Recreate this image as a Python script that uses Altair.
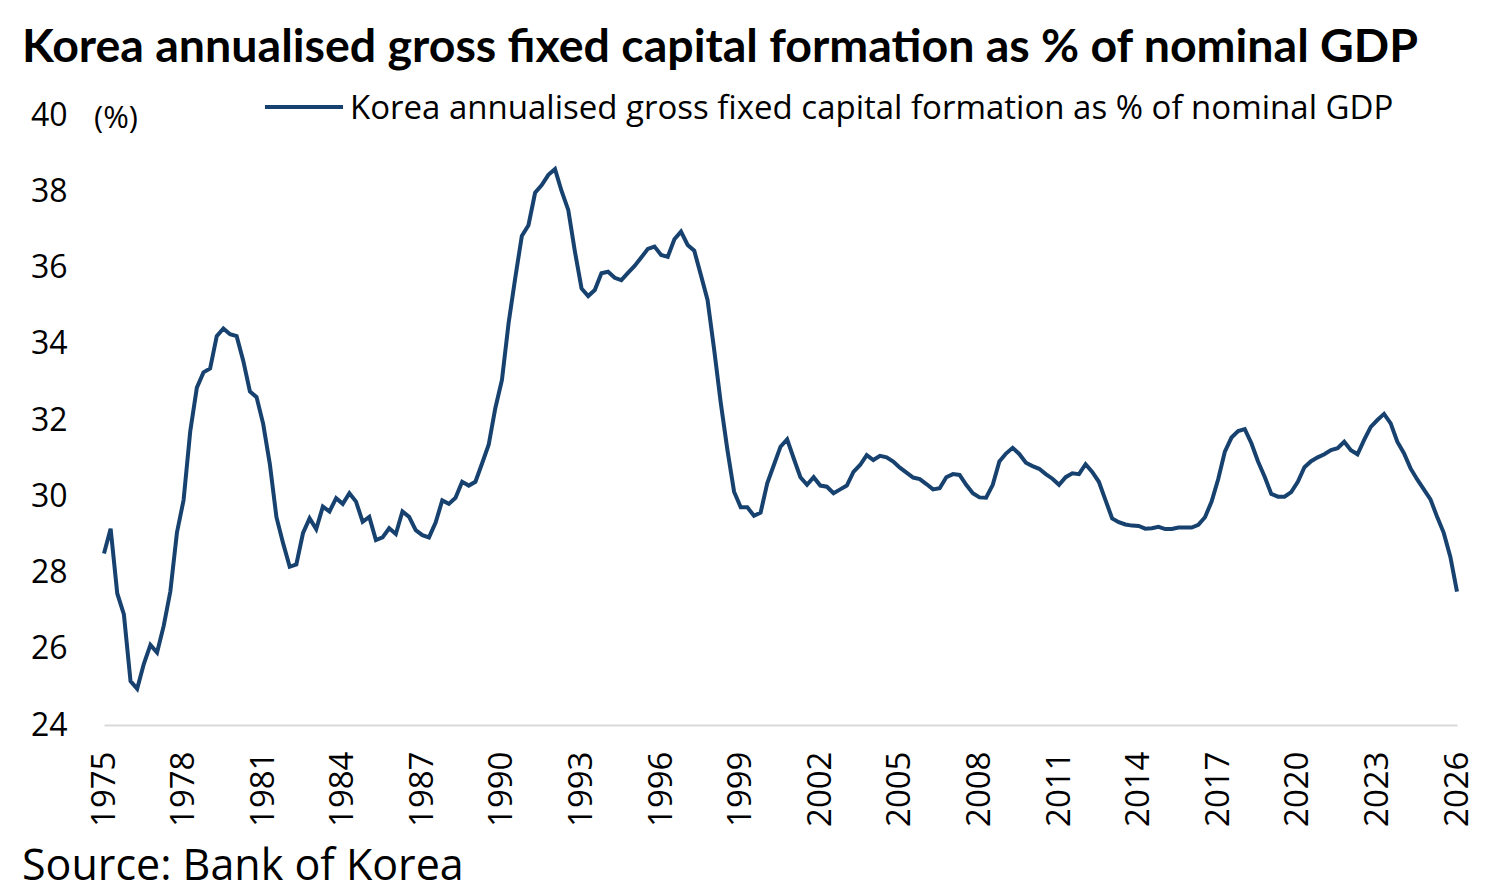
import altair as alt
import pandas as pd

# Quarterly values, 1975Q1 onward
vals_1975_1980 = [28.5, 29.15, 27.45, 26.9, 25.15, 24.95, 25.6, 26.1, 25.9, 26.6, 27.5, 29.05,
                  29.9, 31.7, 32.85, 33.25, 33.35, 34.2, 34.4, 34.25, 34.2, 33.55, 32.75, 32.6]
vals_1981_1987 = [31.9, 30.85, 29.45, 28.77, 28.15, 28.21, 29.03, 29.42, 29.14, 29.73, 29.6, 29.95,
                  29.8, 30.08, 29.86, 29.33, 29.46, 28.85, 28.92, 29.16, 29.01, 29.6, 29.46, 29.11,
                  28.98, 28.92]
vals_1987_1992 = [29.31, 29.89, 29.8, 29.96, 30.38, 30.28, 30.38, 30.86, 31.35, 32.31, 33.05, 34.54,
                  35.72, 36.83, 37.11, 37.96, 38.16, 38.43, 38.58, 38.0]
vals_1992_2000 = [37.51, 36.42, 35.45, 35.25, 35.41, 35.85, 35.89, 35.73, 35.67, 35.86, 36.04, 36.26,
                  36.49, 36.55, 36.33, 36.28, 36.74, 36.94, 36.59, 36.44, 35.8, 35.15, 33.84, 32.44,
                  31.21, 30.12, 29.71, 29.71, 29.49, 29.57, 30.34, 30.82, 31.3]
vals_2000_2008 = [31.49, 30.99, 30.5, 30.3, 30.5, 30.28, 30.25, 30.08, 30.18, 30.28, 30.64, 30.82,
                  31.08, 30.95, 31.06, 31.02, 30.91, 30.75, 30.62, 30.49, 30.45, 30.32, 30.18, 30.21,
                  30.5, 30.58, 30.56, 30.3, 30.08, 29.97, 29.96, 30.3, 30.91]
vals_2009_2017 = [31.12, 31.27, 31.11, 30.88, 30.79, 30.72, 30.58, 30.46, 30.3, 30.5, 30.6, 30.58,
                  30.84, 30.64, 30.38, 29.9, 29.42, 29.32, 29.26, 29.23, 29.22, 29.15, 29.16, 29.2,
                  29.14, 29.14, 29.18, 29.18, 29.18, 29.25, 29.45, 29.86, 30.45]
vals_2017_2026 = [31.17, 31.54, 31.71, 31.76, 31.39, 30.91, 30.51, 30.06, 29.99, 29.99, 30.11, 30.38,
                  30.76, 30.92, 31.02, 31.1, 31.21, 31.26, 31.43, 31.21, 31.1, 31.48, 31.82, 32.0,
                  32.16, 31.91, 31.43, 31.13, 30.73, 30.44, 30.18, 29.92, 29.46, 29.04, 28.41, 27.5]

values = (vals_1975_1980 + vals_1981_1987 + vals_1987_1992 + vals_1992_2000 +
          vals_2000_2008 + vals_2009_2017 + vals_2017_2026)
start_year = 1975
years = [start_year + i / 4 for i in range(len(values))]

x_tick_labels = list(range(1975, 2027, 3))
y_tick_labels = list(range(24, 41, 2))

series_name = "Korea annualised gross fixed capital formation as % of nominal GDP"
title_text = "Korea annualised gross fixed capital formation as % of nominal GDP"
source_text = "Source: Bank of Korea"
unit_text = "(%)"

LINE_COLOR = "#17426f"
FONT = "Open Sans"

df = pd.DataFrame({"year": years, "value": values})

line = alt.Chart(df).mark_line(color=LINE_COLOR, strokeWidth=4).encode(
    x=alt.X("year:Q", scale=alt.Scale(domain=[1975, 2026], nice=False, zero=False),
            axis=alt.Axis(values=x_tick_labels, format="d", labelAngle=270, ticks=False,
                          grid=False, domainColor="#d9d9d9", domainWidth=2,
                          labelPadding=26, labelFontSize=33, labelFont=FONT,
                          labelColor="#000000", title=None)),
    y=alt.Y("value:Q", scale=alt.Scale(domain=[24, 40], nice=False, zero=False),
            axis=alt.Axis(values=y_tick_labels, domain=False, ticks=False, grid=False,
                          labelPadding=37, labelFontSize=32, labelFont=FONT,
                          labelColor="#000000", title=None)),
)

one = pd.DataFrame({"k": [0]})

title = alt.Chart(one).mark_text(text=title_text, font="Lato", fontWeight="bold", fontSize=46.5,
                                 align="left", baseline="alphabetic", color="#000000").encode(
    x=alt.value(-82), y=alt.value(-53))

source = alt.Chart(one).mark_text(text=source_text, font=FONT, fontSize=43,
                                  align="left", baseline="alphabetic", color="#000000").encode(
    x=alt.value(-82), y=alt.value(765))

unit = alt.Chart(one).mark_text(text=unit_text, font=FONT, fontSize=31,
                                align="left", baseline="alphabetic", color="#000000").encode(
    x=alt.value(-10), y=alt.value(13))

legend_line = alt.Chart(one).mark_rule(color=LINE_COLOR, strokeWidth=4).encode(
    x=alt.value(161), x2=alt.value(239), y=alt.value(-8))

legend_text = alt.Chart(one).mark_text(text=series_name, font=FONT, fontSize=33,
                                       align="left", baseline="alphabetic", color="#000000").encode(
    x=alt.value(246), y=alt.value(4))

chart = alt.layer(line, legend_line, legend_text, unit, title, source).properties(
    width=1353, height=610,
    autosize=alt.AutoSizeParams(type="none"),
    padding={"left": 96, "top": 107, "right": 34, "bottom": 175},
).configure_view(stroke=None)

chart.save("out.html", embed_options={"renderer": "svg", "actions": False})
